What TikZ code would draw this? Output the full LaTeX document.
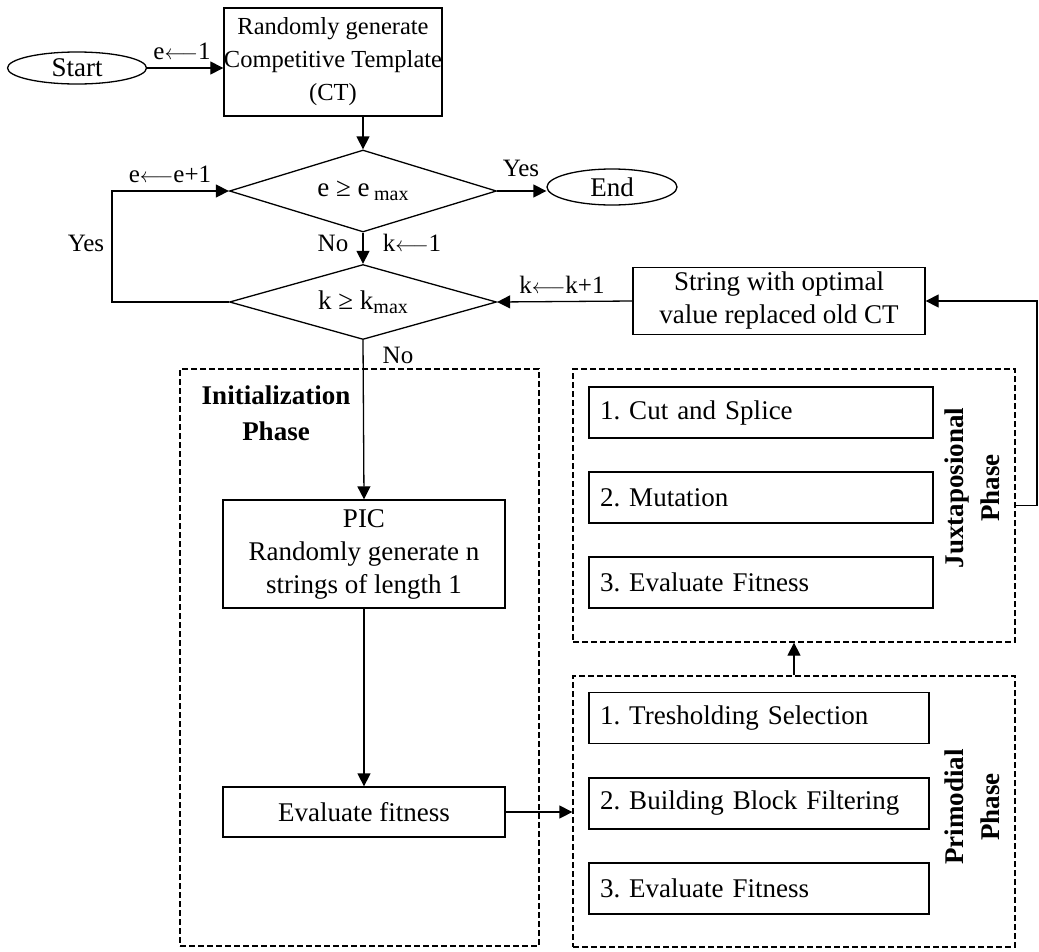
\documentclass[tikz,border=0pt]{standalone}
\usepackage{fontspec}
\setmainfont{Liberation Serif}
\usetikzlibrary{shapes.geometric,arrows.meta}
\frenchspacing
\newcommand{\larr}{{\fontsize{21}{21}\selectfont$\longleftarrow$}}
\begin{document}
\begin{tikzpicture}[x=1pt,y=-1pt,
  every node/.style={font=\fontsize{27}{33}\selectfont},
  ln/.style={line width=1.3pt},
  arr/.style={ln,-{Triangle[length=13pt,width=13pt]}},
  box/.style={draw,ln,inner sep=0pt,align=center},
  ibox/.style={draw,ln,inner xsep=11pt,inner ysep=0pt,align=left,minimum height=51pt},
  dbox/.style={draw,ln,dash pattern=on 6pt off 3pt,inner sep=0pt},
  oval/.style={draw,ln,ellipse,inner sep=0pt},
  dia/.style={draw,ln,diamond,aspect=3.3,inner sep=0pt},
  phase/.style={font=\fontsize{27}{36}\selectfont\bfseries,align=center},
  lbl/.style={inner sep=1pt,font=\fontsize{25}{30}\selectfont}]
\useasboundingbox (0,0) rectangle (1039,951);
% dashed phase boxes
\node[dbox,minimum width=359pt,minimum height=577pt] (initph) at (359.5,657.5) {};
\node[dbox,minimum width=442pt,minimum height=273pt] (juxph) at (794,505.5) {};
\node[dbox,minimum width=442pt,minimum height=271pt] (primph) at (794,811.5) {};
% main nodes
\node[oval,minimum width=139pt,minimum height=32pt] (start) at (77,68) {Start};
\node[box,minimum width=218pt,minimum height=108pt,font=\fontsize{24.5}{33}\selectfont] (ct) at (333,62) {Randomly generate\\Competitive Template\\(CT)};
\node[dia,minimum width=267pt,minimum height=82pt] (d1) at (363,191) {e ≥ e\,\raisebox{-4pt}{\fontsize{20}{20}\selectfont max}};
\node[oval,minimum width=130pt,minimum height=36pt] (end) at (612,187) {End};
\node[dia,minimum width=267pt,minimum height=75pt] (d2) at (363,302) {k ≥ k\raisebox{-4pt}{\fontsize{20}{20}\selectfont max}};
\node[box,minimum width=292pt,minimum height=67pt] (str) at (779,301) {String with optimal\\value replaced old CT};
\node[box,minimum width=282pt,minimum height=108pt] (pic) at (364,554) {PIC\\Randomly generate n\\strings of length 1};
\node[box,minimum width=282pt,minimum height=50pt] (eval) at (364,812) {Evaluate fitness};
% juxtaposional phase
\node[ibox,text width=322pt] (j1) at (761,412.5) {1. Cut and Splice};
\node[ibox,text width=322pt] (j2) at (761,497.5) {2. Mutation};
\node[ibox,text width=322pt] (j3) at (761,582.5) {3. Evaluate Fitness};
\node[phase,rotate=90] (jlab) at (972,488) {Juxtaposional\\Phase};
% primodial phase
\node[ibox,text width=318pt] (p1) at (759,718) {1. Tresholding Selection};
\node[ibox,text width=318pt] (p2) at (759,803.5) {2. Building Block Filtering};
\node[ibox,text width=318pt] (p3) at (759,888.5) {3. Evaluate Fitness};
\node[phase,rotate=90] (plab) at (972,807) {Primodial\\Phase};
% initialization label
\node[phase] (ilab) at (276,413) {Initialization\\Phase};
% connectors
\draw[arr] (start.east) -- (ct.west |- start.east);
\coordinate (ctb) at (363,116);
\draw[arr] (ctb) -- (d1.north);
\draw[arr] (d1.east) -- (end.west |- d1.east);
\draw[arr] (d1.south) -- (d2.north);
\coordinate (lp) at (112,250);
\draw[arr] (d2.west) -| (lp) |- (d1.west);
\draw[arr] (str.west) -- (d2.east);
\draw[arr] (d2.south) -- (pic.north);
\draw[arr] (pic.south) -- (eval.north);
\draw[arr] (eval.east) -- (primph.west |- eval.east);
\draw[arr] (primph.north) -- (juxph.south);
\coordinate (rt) at (1037,400);
\draw[arr] (juxph.east) -| (rt) |- (str.east);
% labels
\node[lbl] (l1) at (182,51) {e\larr1};
\node[lbl] (l2) at (170,174) {e\larr e+1};
\node[lbl] (l3) at (86,243) {Yes};
\node[lbl] (l4) at (521,168) {Yes};
\node[lbl] (l5) at (333,243) {No};
\node[lbl] (l6) at (412,243) {k\larr1};
\node[lbl] (l7) at (562,285) {k\larr k+1};
\node[lbl] (l8) at (398,355) {No};
\end{tikzpicture}
\end{document}
